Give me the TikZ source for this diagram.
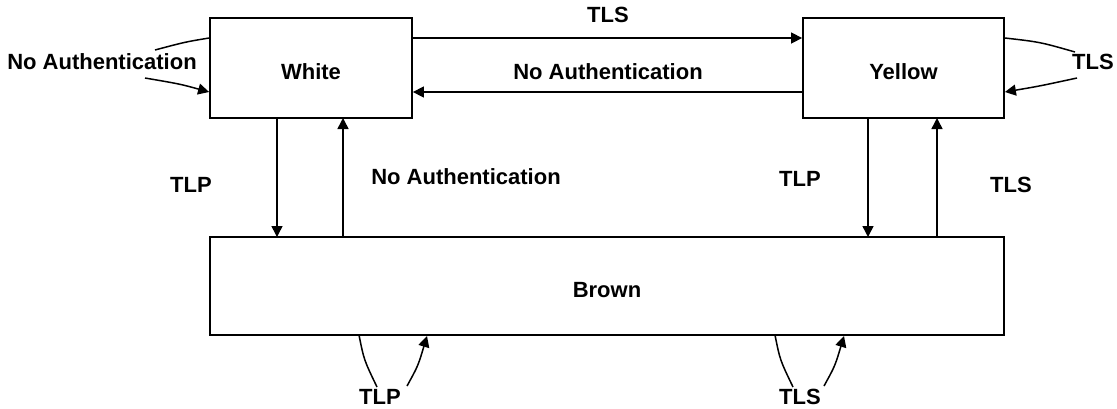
\documentclass[tikz,border=0pt]{standalone}
\usepackage{fontspec}
\setmainfont{Liberation Sans}
\usetikzlibrary{arrows.meta}
\begin{document}
\begin{tikzpicture}[x=1pt,y=-1pt,
  box/.style={draw,line width=1.8pt,inner sep=0pt},
  lab/.style={font=\fontsize{22}{26}\selectfont\bfseries,inner sep=0pt},
  conn/.style={line width=1.5pt,-{Triangle[length=11pt,width=11pt]}},
  plain/.style={line width=1.5pt}]
\useasboundingbox (0,0) rectangle (1117,408);
\node[box,minimum width=202pt,minimum height=100pt] (white) at (311,68) {};
\node[lab] at (311,72) {White};
\node[box,minimum width=201pt,minimum height=100pt] (yellow) at (903.5,68) {};
\node[lab] at (903.5,72) {Yellow};
\node[box,minimum width=794pt,minimum height=98pt] (brown) at (607,286) {};
\node[lab] at (607,290) {Brown};
% top arrows
\draw[conn] (white.east |- 0,38) -- (yellow.west |- 0,38);
\node[lab] (l1) at (608,15) {TLS};
\draw[conn] (yellow.west |- 0,92) -- (white.east |- 0,92);
\node[lab] (l2) at (608,72) {No Authentication};
% vertical arrows
\draw[conn] (277,118) -- (277,237);
\draw[conn] (343,237) -- (343,118);
\node[lab] (l3) at (191,185) {TLP};
\node[lab] (l4) at (466,177) {No Authentication};
\draw[conn] (868,118) -- (868,237);
\draw[conn] (937,237) -- (937,118);
\node[lab] (l5) at (800,179) {TLP};
\node[lab] (l6) at (1011,185) {TLS};
% left loop
\node[lab] (l7) at (102,62) {No Authentication};
\coordinate (a1) at (155,50);
\coordinate (a2) at (145,78);
\draw[plain] (white.west |- 0,38) .. controls (185,42) .. (a1);
\draw[conn] (a2) .. controls (180,84) .. (white.west |- 0,92);
% right loop
\node[lab] (l8) at (1093,62) {TLS};
\coordinate (b1) at (1075,52);
\coordinate (b2) at (1077,78);
\draw[plain] (yellow.east |- 0,38) .. controls (1040,42) .. (b1);
\draw[conn] (b2) .. controls (1040,86) .. (yellow.east |- 0,92);
% bottom loops
\node[lab] (l9) at (380,397) {TLP};
\draw[plain] (359,335) .. controls (364,360) .. (377,387);
\draw[conn] (407,386) .. controls (418,366) .. (427,336);
\node[lab] (l10) at (800,397) {TLS};
\draw[plain] (775,335) .. controls (780,360) .. (793,387);
\draw[conn] (824,386) .. controls (835,366) .. (844,336);
\end{tikzpicture}
\end{document}
